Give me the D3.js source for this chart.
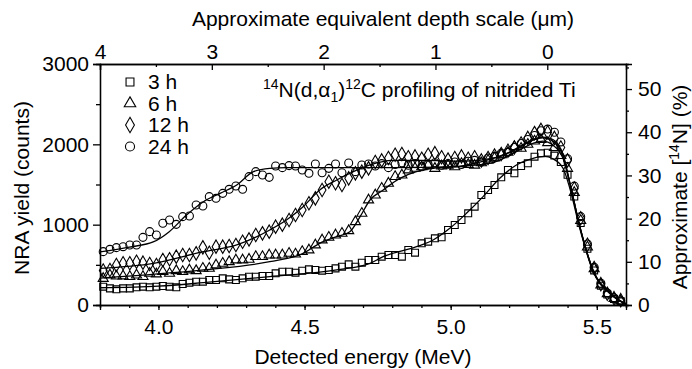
<!DOCTYPE html>
<html>
<head>
<meta charset="utf-8">
<script src="https://cdn.jsdelivr.net/npm/d3@7"></script>
<style>
  body { margin: 0; background: #fff; }
  svg { font-family: "Liberation Sans", Arial, Helvetica, sans-serif; }
</style>
</head>
<body>
<div class="chart"></div>
<script>
// energy channels (MeV), shared by all four spectra
var energy = [3.811,3.834,3.856,3.879,3.902,3.925,3.947,3.970,3.993,4.015,
  4.038,4.061,4.083,4.106,4.129,4.152,4.174,4.197,4.220,4.242,
  4.265,4.288,4.310,4.333,4.356,4.379,4.401,4.424,4.447,4.469,
  4.492,4.515,4.537,4.560,4.583,4.606,4.628,4.651,4.674,4.696,
  4.719,4.742,4.764,4.787,4.810,4.833,4.855,4.878,4.901,4.923,
  4.946,4.969,4.991,5.014,5.037,5.060,5.082,5.105,5.128,5.150,
  5.173,5.196,5.218,5.241,5.264,5.287,5.309,5.332,5.355,5.377,
  5.400,5.423,5.445,5.468,5.491,5.514,5.536,5.559,5.582];

var yield3h = [228,207,195,207,207,220,228,220,228,237,228,220,261,278,290,290,311,311,332,319,
  311,332,353,353,361,361,394,415,415,402,427,444,436,427,436,456,477,506,477,527,560,
  560,602,622,622,602,685,651,768,788,830,842,934,996,1058,1141,1224,1369,1432,1494,1589,
  1681,1639,1730,1764,1846,1888,1896,1860,1780,1620,1350,1020,700,430,240,130,75,45];
var yield6h = [330,373,360,361,353,373,353,394,386,415,394,427,415,436,427,456,456,498,519,539,
  560,560,569,602,602,622,622,622,643,633,664,685,747,809,842,871,892,925,1037,1141,1307,
  1369,1452,1515,1598,1618,1681,1701,1720,1740,1700,1730,1740,1720,1760,1750,1740,1770,1800,1830,1870,
  1900,1970,1950,2000,2040,2060,2020,1960,1860,1700,1400,1050,720,450,250,140,80,50];
var yield12h = [430,436,498,519,519,539,527,510,498,560,569,602,622,622,643,718,651,726,726,734,
  747,788,817,871,892,913,975,1000,1058,1120,1183,1266,1328,1432,1535,1515,1494,1577,1639,1660,1701,
  1780,1800,1830,1870,1880,1840,1850,1820,1870,1890,1840,1810,1830,1850,1820,1840,1800,1830,1860,1880,
  1920,1960,2010,2080,2140,2180,2150,2080,1960,1800,1450,1080,750,460,260,140,85,60];
var yield24h = [664,693,714,726,747,747,842,913,871,1017,1058,1004,1100,1108,1245,1232,1349,1328,1390,1440,
  1481,1440,1598,1660,1618,1589,1731,1710,1735,1731,1681,1639,1755,1647,1701,1755,1647,1768,1660,1743,1755,
  1730,1760,1710,1750,1770,1740,1760,1720,1750,1770,1740,1760,1780,1750,1790,1800,1780,1830,1850,1890,
  1900,1960,2010,2060,2110,2170,2190,2150,2030,1820,1480,1100,760,470,270,150,90,50];

// simulated profile fits
var fit3hE = [3.80,4.00,4.154,4.381,4.61,4.724,4.769,4.883,4.94,4.997,5.054,5.111,5.168,5.225,5.282,5.32,5.35,5.385,5.408,5.442,5.487,5.545,5.60];
var fit3hC = [215,235,278,353,436,519,602,726,809,954,1141,1349,1577,1743,1826,1850,1820,1700,1450,950,420,140,10];
var fit6hE = [3.80,4.154,4.381,4.495,4.552,4.61,4.655,4.69,4.724,4.769,4.826,4.883,4.94,5.05,5.15,5.22,5.28,5.315,5.35,5.385,5.408,5.442,5.487,5.545,5.60];
var fit6hC = [335,436,539,643,768,850,913,1100,1307,1432,1577,1660,1701,1730,1780,1900,2010,2040,1990,1820,1510,975,430,150,10];
var fit12hE = [3.80,3.983,4.154,4.268,4.381,4.438,4.495,4.552,4.61,4.667,4.724,4.80,4.90,5.05,5.15,5.22,5.28,5.315,5.35,5.385,5.408,5.442,5.487,5.545,5.60];
var fit12hC = [456,519,664,747,934,1058,1224,1432,1556,1660,1743,1800,1800,1790,1830,1930,2050,2080,2040,1846,1515,975,436,150,10];
var fit24hE = [3.80,3.90,3.984,4.037,4.096,4.154,4.211,4.268,4.325,4.381,4.438,4.60,4.80,5.00,5.10,5.20,5.27,5.315,5.35,5.385,5.408,5.442,5.487,5.545,5.60];
var fit24hC = [660,720,788,913,1120,1286,1390,1494,1660,1701,1710,1710,1710,1720,1780,1900,2040,2090,2060,1870,1520,975,436,150,10];

var seriesNames = ["3 h", "6 h", "12 h", "24 h"];
var depthTicks = [4, 3, 2, 1, 0];

var margin = {top: 64, right: 66, bottom: 64, left: 100},
    width = 692 - margin.left - margin.right,
    height = 369 - margin.top - margin.bottom;

var svg = d3.select(".chart")
  .append("svg")
    .attr("width", 692)
    .attr("height", 369);

var g = svg.append("g")
  .attr("transform", "translate(" + margin.left + "," + margin.top + ")");

var x = d3.scaleLinear().domain([3.8, 5.6]).range([0, width]);
var y = d3.scaleLinear().domain([0, 3000]).range([height, 0]);
var yPct = d3.scaleLinear().domain([0, 55.8]).range([height, 0]);
var depth = d3.scaleLinear().domain([4, -0.704]).range([0, width]);

var fs = 21, fsSup = 14;

function styleAxis(sel) {
  sel.select(".domain").attr("stroke", "#000").attr("stroke-width", 1.3);
  sel.selectAll(".tick line").attr("stroke", "#000").attr("stroke-width", 1.3);
  sel.selectAll("text").attr("font-size", fs).attr("fill", "#000")
    .attr("font-family", "Liberation Sans, Arial, sans-serif");
}

// bottom axis: minor then major
g.append("g").attr("transform", "translate(0," + height + ")")
  .call(d3.axisBottom(x).tickValues(d3.range(3.8, 5.61, 0.1)).tickSize(3).tickFormat(""))
  .call(styleAxis);
g.append("g").attr("transform", "translate(0," + height + ")")
  .call(d3.axisBottom(x).tickValues([4.0, 4.5, 5.0, 5.5]).tickSize(5).tickPadding(9).tickFormat(d3.format(".1f")))
  .call(styleAxis);

// left axis
g.append("g")
  .call(d3.axisLeft(y).tickValues([500, 1500, 2500]).tickSize(4).tickFormat(""))
  .call(styleAxis);
g.append("g")
  .call(d3.axisLeft(y).tickValues([0, 1000, 2000, 3000]).tickSize(7).tickPadding(4).tickFormat(d3.format("d")))
  .call(styleAxis);

// right axis (approximate N concentration)
g.append("g").attr("transform", "translate(" + width + ",0)")
  .call(d3.axisRight(yPct).tickValues([5, 15, 25, 35, 45, 55]).tickSize(3).tickFormat(""))
  .call(styleAxis);
g.append("g").attr("transform", "translate(" + width + ",0)")
  .call(d3.axisRight(yPct).tickValues([0, 10, 20, 30, 40, 50]).tickSize(6).tickPadding(6).tickFormat(d3.format("d")))
  .call(styleAxis);

// top axis (depth) with inward ticks
g.append("g")
  .call(d3.axisTop(depth).tickValues([3.5, 2.5, 1.5, 0.5]).tickSize(-3).tickFormat(""))
  .call(styleAxis);
var topAx = g.append("g")
  .call(d3.axisTop(depth).tickValues(depthTicks).tickSize(-6).tickFormat(d3.format("d")))
  .call(styleAxis);
topAx.selectAll("text").attr("y", -5);

// fit lines
var line = d3.line()
  .x(function(d) { return x(d[0]); })
  .y(function(d) { return y(d[1]); })
  .curve(d3.curveMonotoneX);

var fits = [[fit3hE, fit3hC], [fit6hE, fit6hC], [fit12hE, fit12hC], [fit24hE, fit24hC]];
fits.forEach(function(f) {
  g.append("path")
    .datum(f[0].map(function(e, i) { return [e, f[1][i]]; }))
    .attr("fill", "none")
    .attr("stroke", "#000")
    .attr("stroke-width", 1.3)
    .attr("d", line);
});

// markers
var symbols = [d3.symbolSquare, d3.symbolTriangle, d3.symbolDiamond, d3.symbolCircle];
var sizes = [48, 44, 52, 50];
var yields = [yield3h, yield6h, yield12h, yield24h];

yields.forEach(function(vals, s) {
  var sym = d3.symbol().type(symbols[s]).size(sizes[s]);
  g.append("g")
    .selectAll("path")
    .data(vals.map(function(v, i) { return [energy[i], v]; }))
    .enter()
    .append("path")
      .attr("d", sym)
      .attr("transform", function(d) { return "translate(" + x(d[0]) + "," + y(d[1]) + ")"; })
      .attr("fill", "none")
      .attr("stroke", "#000")
      .attr("stroke-width", 1.1);
});

// legend
var legend = svg.append("g").attr("transform", "translate(130,82)");
seriesNames.forEach(function(name, i) {
  var row = legend.append("g").attr("transform", "translate(0," + (i * 21.5) + ")");
  row.append("path")
    .attr("d", d3.symbol().type(symbols[i]).size(sizes[i] * 1.3))
    .attr("fill", "none").attr("stroke", "#000").attr("stroke-width", 1.1);
  row.append("text")
    .attr("x", 18).attr("y", 7)
    .attr("font-size", fs)
    .text(name);
});

// annotation
var ann = svg.append("text").attr("x", 263).attr("y", 97).attr("font-size", fs);
ann.append("tspan").attr("font-size", fsSup).attr("dy", -8).text("14");
ann.append("tspan").attr("dy", 8).text("N(d,\u03b1");
ann.append("tspan").attr("font-size", fsSup).attr("dy", 5).text("1");
ann.append("tspan").attr("dy", -5).text(")");
ann.append("tspan").attr("font-size", fsSup).attr("dy", -8).text("12");
ann.append("tspan").attr("dy", 8).text("C profiling of nitrided Ti");

// axis titles
svg.append("text")
  .attr("x", 363).attr("y", 364)
  .attr("text-anchor", "middle").attr("font-size", fs)
  .text("Detected energy (MeV)");

svg.append("text")
  .attr("text-anchor", "middle").attr("font-size", fs)
  .attr("transform", "translate(29,188) rotate(-90)")
  .text("NRA yield (counts)");

var rt = svg.append("text")
  .attr("text-anchor", "middle").attr("font-size", fs)
  .attr("transform", "translate(687,187) rotate(-90)");
rt.append("tspan").text("Approximate [");
rt.append("tspan").attr("font-size", fsSup).attr("dy", -8).text("14");
rt.append("tspan").attr("dy", 8).text("N] (%)");

svg.append("text")
  .attr("x", 383).attr("y", 26)
  .attr("text-anchor", "middle").attr("font-size", fs)
  .text("Approximate equivalent depth scale (\u03bcm)");
</script>
</body>
</html>
